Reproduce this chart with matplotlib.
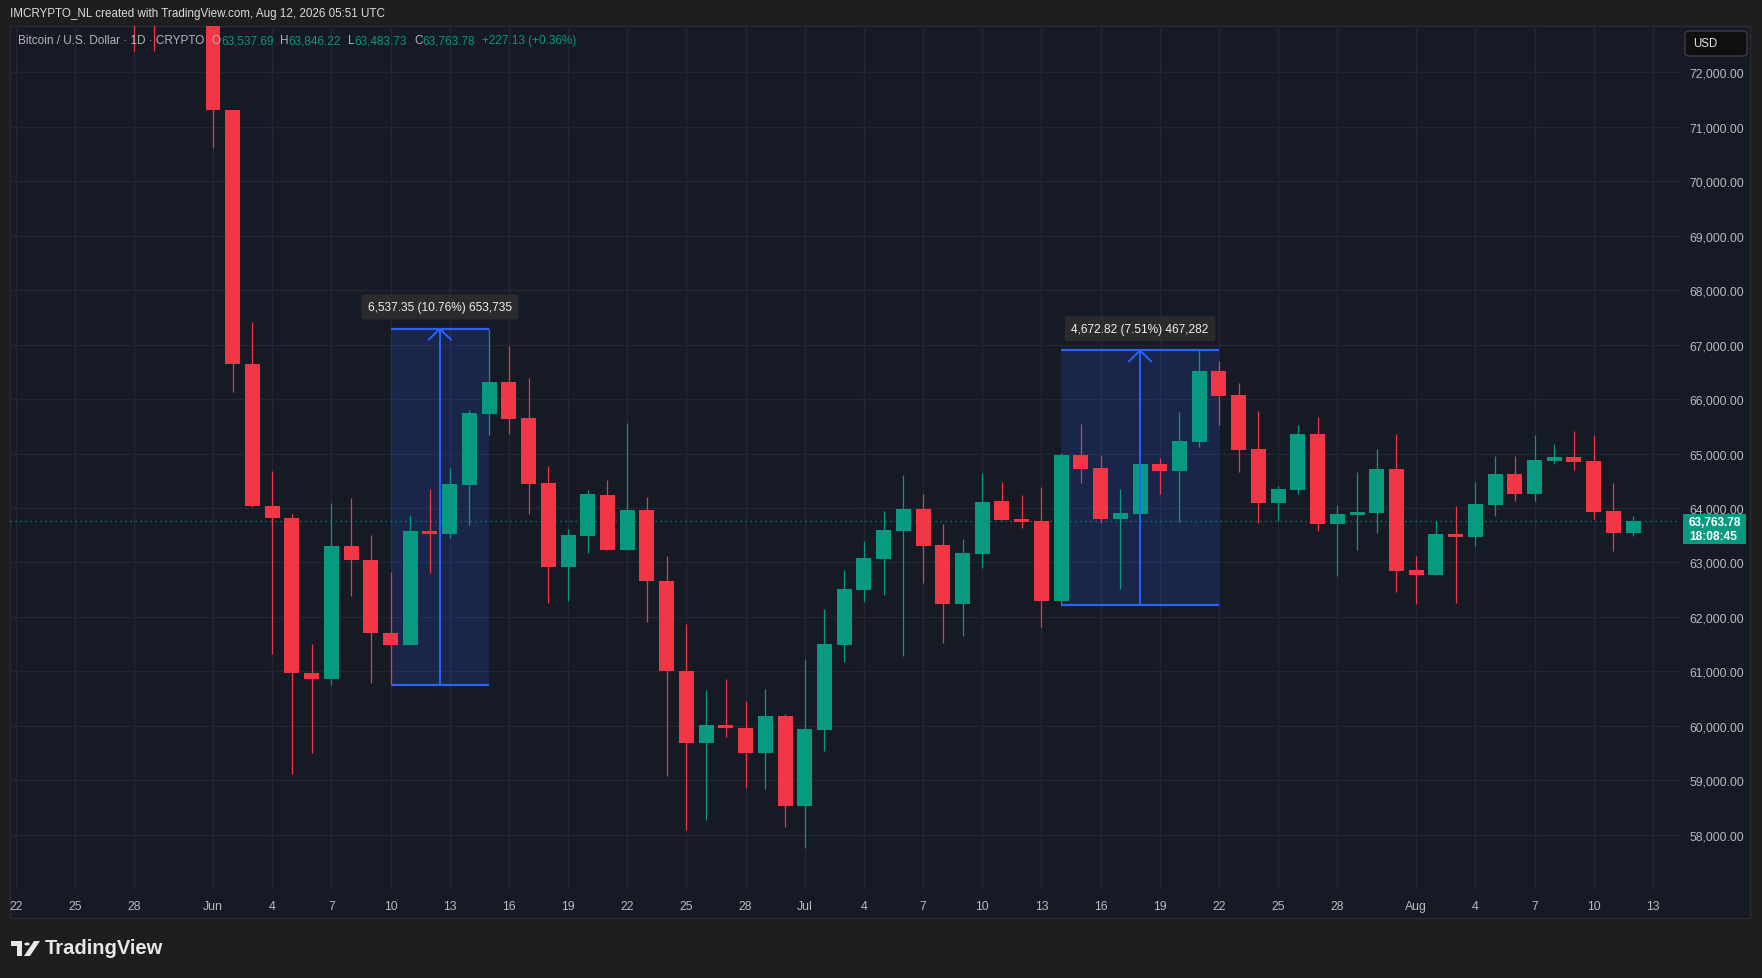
import numpy as np
import pandas as pd
import matplotlib
matplotlib.use('Agg')
import matplotlib.pyplot as plt
import matplotlib.dates as mdates
from matplotlib.patches import Rectangle, FancyBboxPatch, Circle, Polygon

plt.rcParams['font.family'] = ['Liberation Sans', 'DejaVu Sans']

# ---- data (daily BTC/USD candles) ----
first_day = '2026-05-28'
last_day = '2026-08-12'

opens = [74900, 73900, 73300, 73700,
         73900, 71305, 66651, 64045, 63807, 60972, 60862, 63304, 63048, 61710,
         61490, 63579, 63530, 64430, 65734, 66316, 65655, 64461, 62924, 63493,
         64243, 63232, 63967, 62663, 61009, 59687, 60017, 59962, 59491, 60183,
         58530, 59917, 61479, 62489, 63059, 63573, 63977, 63316, 62232, 63151,
         64122, 63791, 63754, 62285, 64967, 64728, 63791, 63883, 64802, 64673,
         65210, 66510, 66069, 65077, 64091, 64330, 65353, 63705, 63871, 63908, 64710,
         62852, 62767, 63514, 63465, 64053, 64616, 64255, 64861, 64928, 64855, 63936, 63537.69]
highs = [75300, 74400, 74200, 74300,
         74100, 71305, 67419, 64676, 63898, 61503, 64090, 64182, 63496, 62815,
         63873, 64350, 64736, 65795, 67293, 66977, 66389, 64773, 63609, 64338,
         64518, 65565, 64206, 63122, 61873, 60660, 60863, 60459, 60679, 60207,
         61203, 62140, 62857, 63390, 63941, 64602, 64253, 63702, 63426, 64639,
         64471, 64232, 64379, 65016, 65536, 64967, 64342, 64802, 64912, 65757,
         66894, 66694, 66290, 65775, 64397, 65518, 65665, 64048, 64655, 65077, 65353,
         63110, 63753, 64028, 64469, 64959, 64947, 65333, 65167, 65406, 65333, 64451, 63846.22]
lows = [72390, 72400, 73000, 73100,
        70610, 66139, 64026, 61320, 59107, 59491, 60744, 62389, 60789, 60756,
        61490, 62813, 63456, 63695, 65348, 65367, 63897, 62262, 62299, 63181,
        63232, 63232, 61897, 59068, 58076, 58272, 59797, 58860, 58842, 58131,
        57750, 59532, 61167, 62269, 62397, 61277, 62618, 61516, 61644, 62893,
        63779, 63626, 61807, 62221, 64459, 63724, 62511, 63858, 64250, 63748,
        65120, 65518, 64661, 63724, 63767, 64257, 63577, 62750, 63228, 63540, 62455,
        62234, 62767, 62252, 63299, 63851, 64126, 64126, 64806, 64696, 63796, 63208, 63483.73]
closes = [73900, 73300, 73700, 73900,
          71305, 66651, 64045, 63807, 60972, 60862, 63304, 63048, 61695, 61490,
          63579, 63530, 64442, 65746, 66316, 65642, 64448, 62924, 63505, 64250,
          63232, 63967, 62650, 60997, 59687, 60017, 59950, 59491, 60183, 58530,
          59936, 61497, 62508, 63077, 63592, 63977, 63298, 62232, 63169, 64106,
          63779, 63742, 62285, 64967, 64716, 63791, 63901, 64802, 64673, 65224,
          66510, 66051, 65065, 64091, 64342, 65353, 63705, 63883, 63920, 64710, 62842,
          62767, 63514, 63465, 64065, 64616, 64255, 64873, 64928, 64843, 63924, 63536.65, 63763.78]

tick_dates = ['2026-05-22', '2026-05-25', '2026-05-28', '2026-06-01', '2026-06-04',
              '2026-06-07', '2026-06-10', '2026-06-13', '2026-06-16', '2026-06-19',
              '2026-06-22', '2026-06-25', '2026-06-28', '2026-07-01', '2026-07-04',
              '2026-07-07', '2026-07-10', '2026-07-13', '2026-07-16', '2026-07-19',
              '2026-07-22', '2026-07-25', '2026-07-28', '2026-08-01', '2026-08-04',
              '2026-08-07', '2026-08-10', '2026-08-13']
tick_labels = ['22', '25', '28', 'Jun', '4', '7', '10', '13', '16', '19', '22', '25', '28',
               'Jul', '4', '7', '10', '13', '16', '19', '22', '25', '28',
               'Aug', '4', '7', '10', '13']
price_ticks = [58000, 59000, 60000, 61000, 62000, 63000, 64000, 65000,
               66000, 67000, 68000, 69000, 70000, 71000, 72000]

# price range measurements: start, end, low, change, volume
ranges = [('2026-06-10', '2026-06-15', 60756.0, 6537.35, '653,735'),
          ('2026-07-14', '2026-07-22', 62221.0, 4672.82, '467,282')]

countdown = '18:08:45'

# ---- styling ----
W, H = 1762, 979
BG = '#1e1e1e'
CHART_BG = '#161a25'
GRID = '#232733'
UP = '#089981'
DOWN = '#f23645'
BLUE = '#2962ff'
AXIS_TXT = '#b8bbc4'


def fx(x):
    return x / W


def fy(y):
    return 1 - y / H


fig = plt.figure(figsize=(W / 100, H / 100), dpi=100, facecolor=BG)

# chart frame (behind the axes)
fig.patches.append(Rectangle((fx(10), fy(919)), (1750 - 10) / W, (919 - 27) / H,
                             transform=fig.transFigure, facecolor=CHART_BG,
                             edgecolor='#2a2c33', lw=1, zorder=-5))

ax = fig.add_axes([fx(10), fy(890), (1680 - 10) / W, (890 - 27) / H])
ax.set_facecolor('none')
for s in ax.spines.values():
    s.set_visible(False)

days = pd.date_range(first_day, last_day, freq='D')
x = mdates.date2num(days)
o = np.array(opens, dtype=float)
h = np.array(highs, dtype=float)
l = np.array(lows, dtype=float)
c = np.array(closes, dtype=float)
cols = np.where(c >= o, UP, DOWN)

ax.set_xlim(mdates.date2num(pd.Timestamp('2026-05-21 17:00')),
            mdates.date2num(pd.Timestamp('2026-08-14 09:00')))
ax.set_ylim(57000, 72854)

ax.set_axisbelow(True)
ax.set_yticks(price_ticks)
ax.set_yticklabels(['{:,.2f}'.format(p) for p in price_ticks])
ax.set_xticks(mdates.date2num(pd.to_datetime(tick_dates)))
ax.set_xticklabels(tick_labels)
ax.yaxis.tick_right()
ax.tick_params(axis='y', length=0, pad=7, labelsize=8.8, labelcolor=AXIS_TXT)
ax.tick_params(axis='x', length=0, pad=8, labelsize=8.8, labelcolor=AXIS_TXT)
ax.grid(True, color=GRID, lw=1)

# candles
ax.vlines(x, l, h, colors=cols, lw=0.9, zorder=3)
body = np.maximum(np.abs(c - o), 22)
ax.bar(x, body, width=0.76, bottom=np.minimum(o, c), color=cols, lw=0, zorder=4)

# last price line
ax.axhline(c[-1], color=UP, lw=0.9, ls=(0, (1, 3)), zorder=2)

# measurement boxes (fill behind candles, lines on top)
dx_head = 0.56
dy_head = 200
for start, end, lo, chg, vol in ranges:
    x0 = mdates.date2num(pd.Timestamp(start))
    x1 = mdates.date2num(pd.Timestamp(end))
    hi = lo + chg
    xm = (x0 + x1) / 2
    ax.add_patch(Rectangle((x0, lo), x1 - x0, hi - lo, facecolor=BLUE, alpha=0.17,
                           lw=0, zorder=1))
    ax.hlines([lo, hi], x0, x1, color=BLUE, lw=1.6, zorder=6)
    ax.plot([xm, xm], [lo, hi], color=BLUE, lw=1.4, zorder=6)
    ax.plot([xm - dx_head, xm, xm + dx_head], [hi - dy_head, hi, hi - dy_head],
            color=BLUE, lw=1.4, zorder=6, solid_joinstyle='miter')
    label = '{:,.2f} ({:.2f}%) {}'.format(chg, chg / lo * 100, vol)
    ax.text(xm, hi + 400, label, ha='center', va='center', color='#f0f0f0',
            fontsize=8.6, zorder=7,
            bbox=dict(boxstyle='round,pad=0.55,rounding_size=0.3', fc='#2b2b2e', ec='none'))

# header
fig.text(fx(10), fy(14), 'IMCRYPTO_NL created with TradingView.com, Aug 12, 2026 05:51 UTC',
         color='#dcdcdc', fontsize=8.4, va='center', ha='left')

# legend line with OHLC of last candle
renderer = fig.canvas.get_renderer()


def chain(x_px, parts, y_px=41, size=8.5):
    for txt, col in parts:
        t = fig.text(fx(x_px), fy(y_px), txt, color=col, fontsize=size, va='center',
                     ha='left', zorder=10)
        x_px += t.get_window_extent(renderer).width


GREY = '#b2b5be'
chain(18, [('Bitcoin / U.S. Dollar · 1D · CRYPTO', GREY)])
chain(212, [('O', GREY), ('{:,.2f}'.format(o[-1]), UP)])
chain(280, [('H', GREY), ('{:,.2f}'.format(h[-1]), UP)])
chain(348, [('L', GREY), ('{:,.2f}'.format(l[-1]), UP)])
chain(414, [('C', GREY), ('{:,.2f}'.format(c[-1]), UP)])
chg_last = c[-1] - c[-2]
chain(482, [('{:+.2f} ({:+.2f}%)'.format(chg_last, chg_last / c[-2] * 100), UP)])

# USD button
fig.patches.append(FancyBboxPatch((fx(1685), fy(57)), 62 / W, 25 / H,
                                  boxstyle='round,pad=0,rounding_size=0.003',
                                  transform=fig.transFigure, facecolor='#0f0f0f',
                                  edgecolor='#3a3d45', lw=1, zorder=8))
fig.text(fx(1693), fy(44), 'USD', color='#e6e6e6', fontsize=8.3, va='center', zorder=9)

# last price label
fig.patches.append(Rectangle((fx(1683), fy(545)), 63 / W, 30 / H, transform=fig.transFigure,
                             facecolor=UP, lw=0, zorder=8))
fig.text(fx(1689), fy(523), '{:,.2f}'.format(c[-1]), color='white', fontsize=8.6,
         fontweight='bold', va='center', zorder=9)
fig.text(fx(1689), fy(537), countdown, color='white', fontsize=8.6,
         fontweight='bold', va='center', zorder=9)

# footer logo
logo = '#e8e8e8'
fig.patches.append(Polygon([(fx(11), fy(942)), (fx(22), fy(942)), (fx(22), fy(957)),
                            (fx(17), fy(957)), (fx(17), fy(947)), (fx(11), fy(947))],
                           closed=True, transform=fig.transFigure, facecolor=logo, lw=0))
fig.patches.append(Circle((fx(27), fy(945)), 2.7 / W, transform=fig.transFigure,
                          facecolor=logo, lw=0))
fig.patches.append(Polygon([(fx(24), fy(957)), (fx(30), fy(957)), (fx(40), fy(942)),
                            (fx(34), fy(942))],
                           closed=True, transform=fig.transFigure, facecolor=logo, lw=0))
fig.text(fx(45), fy(949), 'TradingView', color=logo, fontsize=14.5, fontweight='bold',
         va='center', ha='left')

fig.savefig('out.png', dpi=100, facecolor=BG)
